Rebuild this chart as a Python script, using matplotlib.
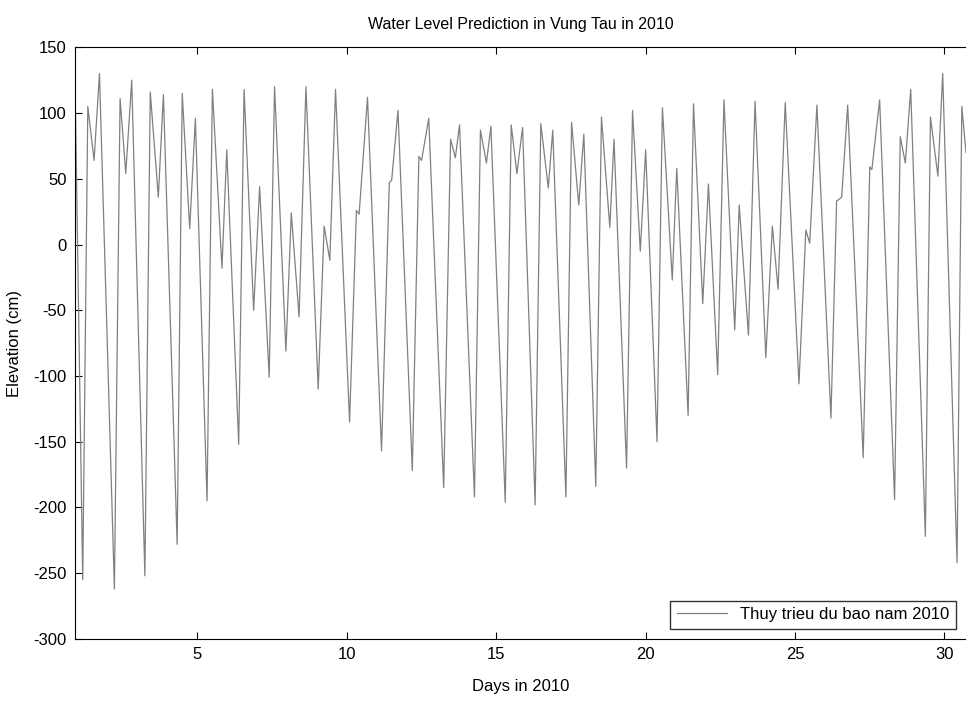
import matplotlib
matplotlib.use('Agg')
import matplotlib.pyplot as plt

plt.rcParams['font.family'] = ['Liberation Sans Narrow', 'Liberation Sans', 'DejaVu Sans']
plt.rcParams['axes.unicode_minus'] = False

# turning points of the predicted tide (day, cm)
days = [0.90, 1.16, 1.33, 1.54, 1.72, 2.22, 2.41, 2.60, 2.80, 3.24, 3.42, 3.69, 3.86,
        4.32, 4.49, 4.74, 4.93, 5.32, 5.50, 5.82, 5.98, 6.38, 6.56, 6.88, 7.08,
        7.40, 7.58, 7.96, 8.14, 8.40, 8.63, 9.04, 9.24, 9.43, 9.62, 10.09, 10.32,
        10.41, 10.69, 11.16, 11.42, 11.50, 11.71, 12.19, 12.41, 12.50, 12.74, 13.24,
        13.47, 13.63, 13.77, 14.27, 14.47, 14.67, 14.82, 15.30, 15.50, 15.69, 15.88,
        16.30, 16.49, 16.74, 16.89, 17.33, 17.52, 17.76, 17.93, 18.33, 18.52, 18.80,
        18.94, 19.36, 19.56, 19.82, 20.00, 20.38, 20.56, 20.89, 21.04, 21.42, 21.60,
        21.91, 22.10, 22.41, 22.62, 22.98, 23.13, 23.44, 23.66, 24.02, 24.24, 24.43,
        24.67, 25.13, 25.36, 25.49, 25.73, 26.20, 26.39, 26.56, 26.76, 27.28, 27.50,
        27.57, 27.83, 28.33, 28.52, 28.69, 28.87, 29.36, 29.53, 29.78, 29.94, 30.42,
        30.58, 30.72]
level = [128, -255, 105, 64, 130, -262, 111, 54, 125, -252, 116, 36, 114,
         -228, 115, 12, 96, -195, 118, -18, 72, -152, 118, -50, 44,
         -101, 120, -81, 24, -55, 120, -110, 14, -12, 118, -135, 26,
         23, 112, -157, 47, 49, 102, -172, 67, 64, 96, -185,
         80, 66, 91, -192, 87, 62, 90, -196, 91, 54, 89,
         -198, 92, 43, 87, -192, 93, 30, 84, -184, 97, 13,
         80, -170, 102, -5, 72, -150, 104, -27, 58, -130, 107,
         -45, 46, -99, 110, -65, 30, -69, 109, -86, 14, -34,
         108, -106, 11, 1, 106, -132, 33, 36, 106, -162, 59,
         57, 110, -194, 82, 62, 118, -222, 97, 52, 130, -242,
         105, 70]

legend_label = 'Thuy trieu du bao nam 2010'

fig = plt.figure(figsize=(9.66, 7.06), dpi=100)
ax = fig.add_axes([0.0776, 0.095, 0.9224, 0.838])
ax.plot(days, level, color='0.5', lw=0.9, label=legend_label)

ax.set_xlim(0.9, 30.72)
ax.set_ylim(-300, 150)
ax.set_xticks(range(5, 31, 5))
ax.set_yticks(range(-300, 151, 50))
ax.tick_params(direction='in', top=True, right=False, length=5, width=0.8,
               labelsize=12, pad=6)
ax.spines['right'].set_visible(False)
for s in ['left', 'top', 'bottom']:
    ax.spines[s].set_linewidth(0.8)

ax.set_title('Water Level Prediction in Vung Tau in 2010', fontsize=11.5, pad=13)
ax.set_xlabel('Days in 2010', fontsize=12, labelpad=12)
ax.set_ylabel('Elevation (cm)', fontsize=12, labelpad=8)

ax.legend(loc='lower right', fancybox=False, edgecolor='0.2', framealpha=1,
          fontsize=12, handlelength=3.0, borderaxespad=0.6)

fig.savefig('out.png', dpi=100)
